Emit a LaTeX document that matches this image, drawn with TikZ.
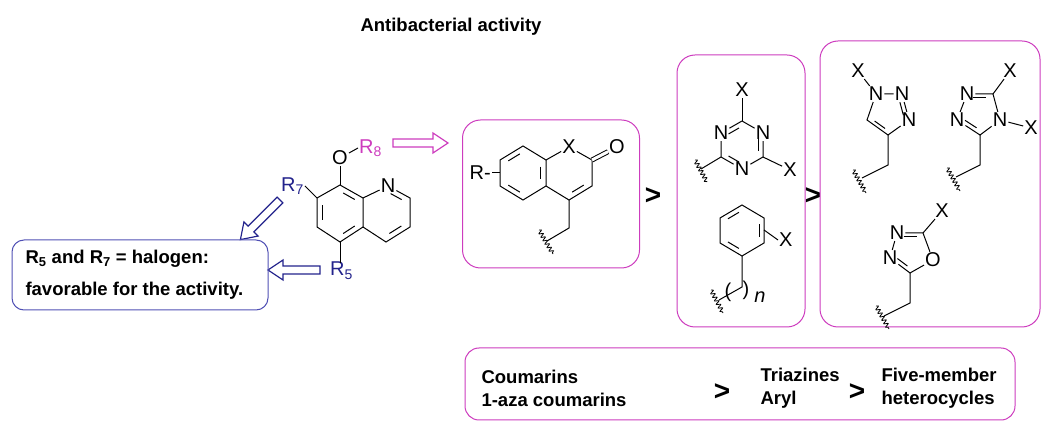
\documentclass[tikz,border=0pt]{standalone}
\usepackage{fontspec}
\setmainfont{Liberation Sans}
\usetikzlibrary{calc,decorations.pathmorphing}
\definecolor{magentabox}{RGB}{205,60,190}
\definecolor{navyR}{RGB}{35,35,140}
\definecolor{bluebox}{RGB}{80,80,180}
\tikzset{
  atom/.style={inner sep=1pt, font=\fontsize{20}{20}\selectfont},
  bond/.style={line width=1pt},
  wavy/.style={line width=0.8pt, decorate, decoration={snake, segment length=4pt, amplitude=2pt}},
  group box/.style={draw=magentabox, line width=1pt, rounded corners=18pt},
  info text/.style={font=\fontsize{18.5}{23}\selectfont\bfseries, align=left, anchor=west},
  hollow/.style={line width=1.2pt, fill=white},
  bigger/.style={font=\fontsize{28}{28}\selectfont\bfseries},
}
% inner line of a ring double bond: ends, ring centre
\newcommand\dbl[3]{\draw[bond] ($($(#1)!.18!(#2)$)!.22!(#3)$) -- ($($(#2)!.18!(#1)$)!.22!(#3)$);}
% hollow arrow: colour, start, angle, length
\newcommand\hollowarrow[4]{\draw[hollow, draw=#1, shift={#2}, rotate=#3]
  (0,-4) -- (#4-15,-4) -- (#4-15,-10) -- (#4,0) -- (#4-15,10) -- (#4-15,4) -- (0,4) -- cycle;}

\begin{document}
\begin{tikzpicture}[x=1pt, y=-1pt]
  \useasboundingbox (0,0) rectangle (1053,443);

  \node [font=\fontsize{18.5}{18.5}\selectfont\bfseries] (title) at (451,27) {Antibacterial activity};

  % quinoline
  \coordinate (q8) at (340,185);
  \coordinate (q7) at (317,198);
  \coordinate (q6) at (317,227);
  \coordinate (q5) at (340,242);
  \coordinate (q4a) at (363,227);
  \coordinate (q8a) at (363,198);
  \node [atom] (qn) at (388,186) {N};
  \coordinate (q2) at (410,198);
  \coordinate (q3) at (410,227);
  \coordinate (q4) at (386,242);
  \coordinate (qc1) at (340,213);
  \coordinate (qc2) at (386,213);
  \node [atom] (qo) at (340,158) {O};
  \node [atom, text=magentabox, anchor=west] (r8) at (358,148) {R\textsubscript{8}};
  \node [atom, text=navyR, anchor=east] (r7) at (305,186) {R\textsubscript{7}};
  \node [atom, text=navyR, anchor=north west] (r5) at (329,261) {R\textsubscript{5}};
  \draw[bond] (q8) -- (q7) -- (q6) -- (q5) -- (q4a) -- (q8a) -- cycle;
  \draw[bond] (q8a) -- (qn) -- (q2) -- (q3) -- (q4) -- (q4a);
  \dbl{q7}{q6}{qc1} \dbl{q5}{q4a}{qc1} \dbl{q8}{q8a}{qc1}
  \dbl{qn}{q2}{qc2} \dbl{q3}{q4}{qc2}
  \draw[bond] (q8) -- (qo);
  \draw[bond] (qo) -- (r8.west);
  \draw[bond] (q7) -- (r7.east);
  \draw[bond] (q5) -- (340,263);

  \hollowarrow{magentabox}{(393,143)}{0}{55}
  \hollowarrow{navyR}{(320,270)}{180}{52}
  \hollowarrow{navyR}{(280,200)}{225}{56}

  % halogen note
  \node [draw=bluebox, line width=1pt, rounded corners=12pt, minimum width=256pt, minimum height=70pt] (note) at (140,275) {};
  \node [info text] (note1) at (22,259) {R\textsubscript{5} and R\textsubscript{7} = halogen:};
  \node [info text] (note2) at (22,291) {favorable for the activity.};

  % coumarins
  \node [group box, minimum width=177pt, minimum height=148pt] (box1) at (551,194) {};
  \coordinate (c1) at (523,146);
  \coordinate (c2) at (546,160);
  \coordinate (c3) at (546,186);
  \coordinate (c4) at (523,200);
  \coordinate (c5) at (500,186);
  \coordinate (c6) at (500,160);
  \coordinate (cc1) at (523,173);
  \coordinate (cc2) at (569,173);
  \node [atom] (cx) at (569,147) {X};
  \coordinate (cco) at (592,160);
  \node [atom] (co) at (617,147) {O};
  \coordinate (c3p) at (592,186);
  \coordinate (c4p) at (569,200);
  \coordinate (cch2) at (569,228);
  \coordinate (cend) at (547,241);
  \node [atom, anchor=east] (cr) at (492,173) {R-};
  \draw[bond] (c1) -- (c2) -- (c3) -- (c4) -- (c5) -- (c6) -- cycle;
  \draw[bond] (c2) -- (cx) -- (cco) -- (c3p) -- (c4p) -- (c3);
  \dbl{c6}{c1}{cc1} \dbl{c2}{c3}{cc1} \dbl{c4}{c5}{cc1} \dbl{c3p}{c4p}{cc2}
  \draw[bond, double, double distance=3pt] (cco) -- (co);
  \draw[bond] (cr.east) -- (500,173);
  \draw[bond] (c4p) -- (cch2) -- (cend);
  \draw[wavy] (539,230) -- (553,254);

  \node [bigger] (gt1) at (653,196) {>};

  % triazines and aryl
  \node [group box, minimum width=128pt, minimum height=272pt] (box2) at (741,191) {};
  \coordinate (t1) at (742,121);
  \node [atom] (tn1) at (763,133) {N};
  \coordinate (t2) at (763,157);
  \node [atom] (tn2) at (742,169) {N};
  \coordinate (t3) at (721,157);
  \node [atom] (tn3) at (721,133) {N};
  \coordinate (tc) at (742,145);
  \node [atom] (tx1) at (742,90) {X};
  \node [atom] (tx2) at (790,170) {X};
  \coordinate (tend) at (701,169);
  \draw[bond] (t1) -- (tn1) -- (t2) -- (tn2) -- (t3) -- (tn3) -- (t1);
  \dbl{t1}{tn3}{tc} \dbl{tn1}{t2}{tc} \dbl{tn2}{t3}{tc}
  \draw[bond] (t1) -- (tx1);
  \draw[bond] (t2) -- (tx2);
  \draw[bond] (t3) -- (tend);
  \draw[wavy] (695,160) -- (707,182);
  \coordinate (a1) at (742,205);
  \coordinate (a2) at (764,218);
  \coordinate (a3) at (764,243);
  \coordinate (a4) at (742,256);
  \coordinate (a5) at (720,243);
  \coordinate (a6) at (720,218);
  \coordinate (ac) at (742,230);
  \coordinate (ach2) at (742,287);
  \coordinate (aend) at (719,300);
  \node [atom, anchor=west] (ax) at (778,240) {X};
  \draw[bond] (a1) -- (a2) -- (a3) -- (a4) -- (a5) -- (a6) -- cycle;
  \dbl{a6}{a1}{ac} \dbl{a2}{a3}{ac} \dbl{a4}{a5}{ac}
  \draw[bond] (764,230) -- (ax.west);
  \draw[bond] (a4) -- (ach2) -- (aend);
  \draw[wavy] (711,290) -- (723,313);
  \node [atom] (lpar) at (728,292) {(};
  \node [atom] (rpar) at (746,290) {)};
  \node [atom, font=\fontsize{20}{20}\selectfont\itshape] (an) at (760,297) {n};

  \node [bigger] (gt2) at (813,196) {>};

  % five-member heterocycles
  \node [group box, minimum width=220pt, minimum height=286pt] (box3) at (930,184) {};
  % 1,2,3-triazole
  \node [atom] (za1) at (876,94) {N};
  \node [atom] (za2) at (902,94) {N};
  \node [atom] (za3) at (909,120) {N};
  \coordinate (za4) at (888,135);
  \coordinate (za5) at (867,120);
  \coordinate (zac) at (888,115);
  \node [atom] (zax) at (858,71) {X};
  \coordinate (zach2) at (888,165);
  \coordinate (zaend) at (862,178);
  \draw[bond] (za1) -- (za2) -- (za3) -- (za4) -- (za5) -- (za1);
  \dbl{za2}{za3}{zac} \dbl{za4}{za5}{zac}
  \draw[bond] (za1) -- (zax);
  \draw[bond] (za4) -- (zach2) -- (zaend);
  \draw[wavy] (853,170) -- (866,193);
  % 1,2,4-triazole
  \node [atom] (zb1) at (967,94) {N};
  \coordinate (zb2) at (993,94);
  \node [atom] (zb3) at (1000,120) {N};
  \coordinate (zb4) at (980,135);
  \node [atom] (zb5) at (957,120) {N};
  \coordinate (zbc) at (979,112);
  \node [atom] (zbx1) at (1010,71) {X};
  \node [atom] (zbx2) at (1031,128) {X};
  \coordinate (zbch2) at (980,165);
  \coordinate (zbend) at (956,177);
  \draw[bond] (zb1) -- (zb2) -- (zb3) -- (zb4) -- (zb5) -- (zb1);
  \dbl{zb1}{zb2}{zbc} \dbl{zb4}{zb5}{zbc}
  \draw[bond] (zb2) -- (zbx1);
  \draw[bond] (zb3) -- (zbx2);
  \draw[bond] (zb4) -- (zbch2) -- (zbend);
  \draw[wavy] (947,168) -- (960,191);
  % 1,3,4-oxadiazole
  \node [atom] (zc1) at (897,233) {N};
  \coordinate (zc2) at (923,233);
  \node [atom] (zc3) at (933,260) {O};
  \coordinate (zc4) at (910,273);
  \node [atom] (zc5) at (890,258) {N};
  \coordinate (zcc) at (911,251);
  \node [atom] (zcx) at (942,211) {X};
  \coordinate (zcch2) at (910,303);
  \coordinate (zcend) at (884,316);
  \draw[bond] (zc1) -- (zc2) -- (zc3) -- (zc4) -- (zc5) -- (zc1);
  \dbl{zc1}{zc2}{zcc} \dbl{zc4}{zc5}{zcc}
  \draw[bond] (zc2) -- (zcx);
  \draw[bond] (zc4) -- (zcch2) -- (zcend);
  \draw[wavy] (876,306) -- (889,329);

  % summary
  \node [group box, rounded corners=14pt, minimum width=550pt, minimum height=72pt] (summary) at (740,384) {};
  \node [info text] (sum1) at (478,388) {Coumarins\\1-aza coumarins};
  \node [bigger] (sgt1) at (722,392) {>};
  \node [info text] (sum2) at (757,388) {Triazines\\Aryl};
  \node [bigger] (sgt2) at (857,392) {>};
  \node [info text] (sum3) at (878,388) {Five-member\\heterocycles};
\end{tikzpicture}
\end{document}
